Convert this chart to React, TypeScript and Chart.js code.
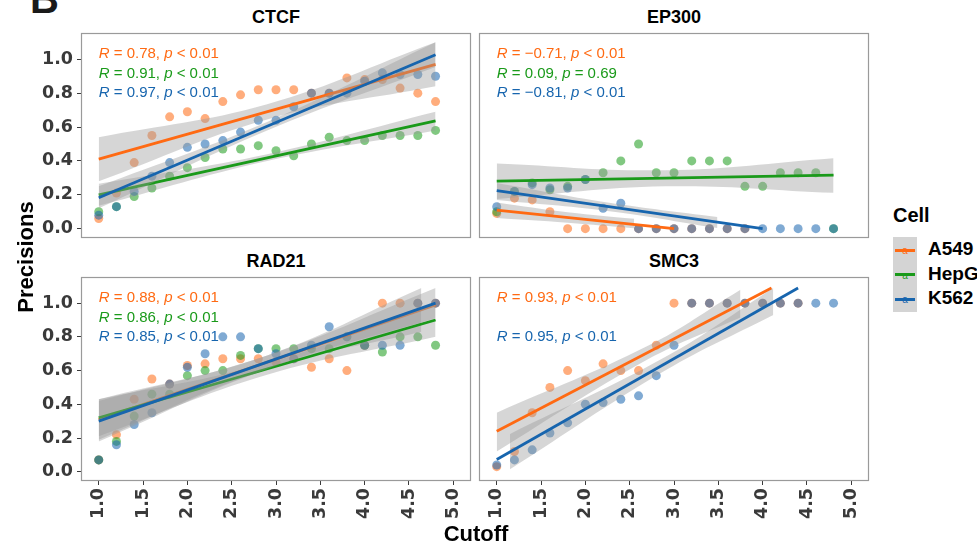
import React, { useEffect, useRef } from 'react';
import { Chart, registerables } from 'chart.js';

Chart.register(...registerables);

// ---------- data ----------
const cutoffs = [1.0, 1.2, 1.4, 1.6, 1.8, 2.0, 2.2, 2.4, 2.6, 2.8, 3.0, 3.2, 3.4, 3.6, 3.8, 4.0, 4.2, 4.4, 4.6, 4.8];
const cells = ['A549', 'HepG2', 'K562'];
const cellColors = ['#FF6A13', '#1A9A1A', '#1765AE'];
const xTicks = [1.0, 1.5, 2.0, 2.5, 3.0, 3.5, 4.0, 4.5, 5.0];
const yTicks = [0.0, 0.2, 0.4, 0.6, 0.8, 1.0];
const corLabelY = [1.03, 0.915, 0.8];

// CTCF
const ctcfA549 = [0.06, 0.21, 0.39, 0.55, 0.66, 0.69, 0.65, 0.75, 0.79, 0.82, 0.82, 0.82, 0.8, 0.8, 0.89, 0.88, 0.88, 0.83, 0.8, 0.75];
const ctcfHepG2 = [0.1, 0.13, 0.19, 0.24, 0.31, 0.36, 0.42, 0.47, 0.47, 0.49, 0.46, 0.43, 0.5, 0.54, 0.52, 0.52, 0.55, 0.55, 0.55, 0.58];
const ctcfK562 = [0.08, 0.13, 0.22, 0.31, 0.39, 0.48, 0.5, 0.52, 0.57, 0.64, 0.64, 0.72, 0.8, 0.8, 0.8, 0.87, 0.92, 0.91, 0.91, 0.9];
const ctcfR = ['0.78', '0.91', '0.97'];
const ctcfP = ['< 0.01', '< 0.01', '< 0.01'];
const ctcfFitA549 = [[1.0, 0.41], [4.8, 0.97]];
const ctcfFitHepG2 = [[1.0, 0.2], [4.8, 0.636]];
const ctcfFitK562 = [[1.0, 0.183], [4.8, 1.027]];
const ctcfBandA549 = [[1.0, 0.28, 0.54], [2.9, 0.645, 0.735], [4.8, 0.84, 1.1]];
const ctcfBandHepG2 = [[1.0, 0.135, 0.265], [2.9, 0.4, 0.44], [4.8, 0.58, 0.69]];
const ctcfBandK562 = [[1.0, 0.12, 0.25], [2.9, 0.58, 0.63], [4.8, 0.955, 1.1]];

// EP300
const ep300A549 = [0.09, 0.18, 0.17, 0.1, 0, 0, 0, 0, 0, 0, 0, 0, 0, 0, 0, null, null, null, null, null];
const ep300HepG2 = [0.1, 0.22, 0.27, 0.23, 0.25, 0.29, 0.33, 0.4, 0.5, 0.33, 0.33, 0.4, 0.4, 0.4, 0.25, 0.25, 0.33, 0.33, 0.33, 0];
const ep300K562 = [0.13, 0.22, 0.26, 0.24, 0.24, 0.29, 0.12, 0.15, 0, 0, 0, 0, 0, 0, 0, 0, 0, 0, 0, 0];
const ep300R = ['\u22120.71', '0.09', '\u22120.81'];
const ep300P = ['< 0.01', '= 0.69', '< 0.01'];
const ep300FitA549 = [[1.0, 0.11], [3.0, 0.0]];
const ep300FitHepG2 = [[1.0, 0.281], [4.8, 0.316]];
const ep300FitK562 = [[1.0, 0.224], [4.0, 0.0]];
const ep300BandA549 = [[1.0, 0.063, 0.155], [1.8, 0.035, 0.097], [2.55, 0.002, 0.058]];
const ep300BandHepG2 = [[1.0, 0.175, 0.385], [2.9, 0.25, 0.345], [4.8, 0.212, 0.416]];
const ep300BandK562 = [[1.0, 0.17, 0.27], [2.25, 0.105, 0.155], [3.49, 0.004, 0.069]];

// RAD21
const rad21A549 = [0.07, 0.22, 0.43, 0.55, 0.52, 0.63, 0.64, 0.67, 0.67, 0.67, 0.65, 0.67, 0.62, 0.67, 0.6, 0.75, 1.0, 1.0, 1.0, 1.0];
const rad21HepG2 = [0.07, 0.18, 0.33, 0.46, 0.46, 0.57, 0.6, 0.6, 0.69, 0.73, 0.73, 0.73, 0.73, 0.73, 0.8, 0.75, 0.71, 0.8, 0.8, 0.75];
const rad21K562 = [0.07, 0.16, 0.28, 0.35, 0.52, 0.62, 0.7, 0.8, 0.8, 0.73, 0.7, 0.67, 0.75, 0.86, 0.8, 0.75, 0.75, 0.75, 1.0, 1.0];
const rad21R = ['0.88', '0.86', '0.85'];
const rad21P = ['< 0.01', '< 0.01', '< 0.01'];
const rad21FitA549 = [[1.0, 0.31], [4.8, 0.99]];
const rad21FitHepG2 = [[1.0, 0.32], [4.8, 0.9]];
const rad21FitK562 = [[1.0, 0.3], [4.8, 1.0]];
const rad21BandA549 = [[1.0, 0.19, 0.43], [2.9, 0.61, 0.69], [4.64, 0.83, 1.09]];
const rad21BandHepG2 = [[1.0, 0.21, 0.43], [2.9, 0.575, 0.645], [4.8, 0.8, 1.0]];
const rad21BandK562 = [[1.0, 0.18, 0.42], [2.9, 0.61, 0.69], [4.8, 0.91, 1.09]];

// SMC3
const smc3A549 = [0.03, 0.12, 0.35, 0.5, 0.6, 0.54, 0.64, 0.6, 0.6, 0.75, 1.0, 1.0, 1.0, 1.0, 1.0, 1.0, 1.0, 1.0, null, null];
const smc3HepG2 = [null, null, null, null, null, null, null, null, null, null, null, null, null, null, null, null, null, null, null, null];
const smc3K562 = [0.04, 0.07, 0.13, 0.23, 0.29, 0.4, 0.41, 0.43, 0.45, 0.57, 0.75, 1.0, 1.0, 1.0, 1.0, 1.0, 1.0, 1.0, 1.0, 1.0];
const smc3R = ['0.93', null, '0.95'];
const smc3P = ['< 0.01', null, '< 0.01'];
const smc3FitA549 = [[1.0, 0.24], [4.1, 1.09]];
const smc3FitK562 = [[1.0, 0.073], [4.4, 1.09]];
const smc3BandA549 = [[1.0, 0.12, 0.35], [2.7, 0.665, 0.745], [3.75, 0.915, 1.08]];
const smc3BandK562 = [[1.15, 0.014, 0.224], [2.9, 0.6, 0.68], [4.12, 0.93, 1.09]];

// ---------- layout / style ----------
const TICK_FONT = '"DejaVu Sans", Arial, sans-serif';
const TEXT_FONT = '"Liberation Sans", Arial, Helvetica, sans-serif';
const BAND_FILL = 'rgba(153,153,153,0.4)';
const TICK_COLOR = '#3a3a3a';

const panels = [
  { title: 'CTCF', values: [ctcfA549, ctcfHepG2, ctcfK562], fits: [ctcfFitA549, ctcfFitHepG2, ctcfFitK562], bands: [ctcfBandA549, ctcfBandHepG2, ctcfBandK562], r: ctcfR, p: ctcfP, left: 81, top: 33, w: 390, h: 205, showX: false, showY: true, titleY: 19 },
  { title: 'EP300', values: [ep300A549, ep300HepG2, ep300K562], fits: [ep300FitA549, ep300FitHepG2, ep300FitK562], bands: [ep300BandA549, ep300BandHepG2, ep300BandK562], r: ep300R, p: ep300P, left: 479, top: 33, w: 390, h: 205, showX: false, showY: false, titleY: 19 },
  { title: 'RAD21', values: [rad21A549, rad21HepG2, rad21K562], fits: [rad21FitA549, rad21FitHepG2, rad21FitK562], bands: [rad21BandA549, rad21BandHepG2, rad21BandK562], r: rad21R, p: rad21P, left: 81, top: 277, w: 390, h: 204, showX: true, showY: true, titleY: 262.5 },
  { title: 'SMC3', values: [smc3A549, smc3HepG2, smc3K562], fits: [smc3FitA549, null, smc3FitK562], bands: [smc3BandA549, null, smc3BandK562], r: smc3R, p: smc3P, left: 479, top: 277, w: 390, h: 204, showX: true, showY: false, titleY: 262.5 },
];

const PAD = 3;
const Y_AXIS_W = 50;
const X_AXIS_H = 62;

function rgba(hex: string, a: number) {
  const n = parseInt(hex.slice(1), 16);
  return `rgba(${(n >> 16) & 255},${(n >> 8) & 255},${n & 255},${a})`;
}

function buildDatasets(p: any) {
  const ds: any[] = [];
  p.values.forEach((vals: (number | null)[], i: number) => {
    ds.push({
      type: 'scatter',
      data: cutoffs.map((x, j) => ({ x, y: vals[j] })).filter((d) => d.y != null),
      backgroundColor: rgba(cellColors[i], 0.55),
      borderWidth: 0,
      pointRadius: 4.5,
      pointHoverRadius: 4.5,
    });
  });
  p.bands.forEach((band: number[][] | null, i: number) => {
    if (band) {
      ds.push({
        type: 'line',
        data: band.map((b) => ({ x: b[0], y: b[1] })),
        borderColor: 'rgba(0,0,0,0)',
        borderWidth: 0,
        pointRadius: 0,
        tension: 0.4,
        fill: false,
      });
      ds.push({
        type: 'line',
        data: band.map((b) => ({ x: b[0], y: b[2] })),
        borderColor: 'rgba(0,0,0,0)',
        borderWidth: 0,
        pointRadius: 0,
        tension: 0.4,
        fill: '-1',
        backgroundColor: BAND_FILL,
      });
    }
    const fit = p.fits[i];
    if (fit) {
      ds.push({
        type: 'line',
        data: fit.map((f: number[]) => ({ x: f[0], y: f[1] })),
        borderColor: cellColors[i],
        borderWidth: 2.8,
        pointRadius: 0,
        tension: 0,
        fill: false,
        borderCapStyle: 'butt',
      });
    }
  });
  const n = ds.length;
  ds.forEach((d, i) => (d.order = n - i));
  return ds;
}

function decoPlugin(p: any) {
  return {
    id: 'deco',
    afterDatasetsDraw(chart: any) {
      const { ctx, chartArea: a, scales } = chart;
      ctx.save();
      const x0 = scales.x.getPixelForValue(1.0);
      p.r.forEach((rv: string | null, i: number) => {
        if (rv == null) return;
        const y = scales.y.getPixelForValue(corLabelY[i]);
        const parts: [string, boolean][] = [['R', true], [` = ${rv}, `, false], ['p', true], [` ${p.p[i]}`, false]];
        let x = x0;
        ctx.fillStyle = cellColors[i];
        ctx.textBaseline = 'middle';
        ctx.textAlign = 'left';
        for (const [t, it] of parts) {
          ctx.font = `${it ? 'italic ' : ''}15px ${TEXT_FONT}`;
          ctx.fillText(t, x, y);
          x += ctx.measureText(t).width;
        }
      });
      ctx.strokeStyle = '#9a9a9a';
      ctx.lineWidth = 1.2;
      ctx.strokeRect(a.left + 0.5, a.top + 0.5, a.right - a.left - 1, a.bottom - a.top - 1);
      ctx.restore();
    },
  };
}

function Panel({ p }: { p: any }) {
  const ref = useRef<HTMLCanvasElement>(null);
  const yW = p.showY ? Y_AXIS_W : 0;
  const xH = p.showX ? X_AXIS_H : 0;
  const w = PAD + yW + p.w + PAD;
  const h = PAD + p.h + xH + PAD;

  useEffect(() => {
    const tickFont = { family: TICK_FONT, size: 17.5, weight: 'bold' as const };
    const chart = new Chart(ref.current as HTMLCanvasElement, {
      type: 'scatter',
      data: { datasets: buildDatasets(p) },
      options: {
        animation: false,
        responsive: false,
        events: [],
        layout: { padding: PAD, autoPadding: false },
        plugins: { legend: { display: false }, tooltip: { enabled: false }, title: { display: false } },
        scales: {
          x: {
            type: 'linear',
            display: p.showX,
            min: 0.8,
            max: 5.2,
            afterBuildTicks: (s: any) => {
              s.ticks = xTicks.map((v) => ({ value: v }));
            },
            afterFit: (s: any) => {
              s.height = xH;
              s.paddingLeft = 0;
              s.paddingRight = 0;
              s.paddingTop = 0;
              s.paddingBottom = 0;
            },
            ticks: {
              autoSkip: false,
              maxRotation: 90,
              minRotation: 90,
              padding: 3,
              color: TICK_COLOR,
              font: tickFont,
              callback: (v: any) => Number(v).toFixed(1),
            },
            grid: { drawOnChartArea: false, drawTicks: true, tickLength: 4, color: TICK_COLOR },
            border: { display: false },
          },
          y: {
            type: 'linear',
            display: p.showY,
            min: -0.055,
            max: 1.155,
            afterBuildTicks: (s: any) => {
              s.ticks = yTicks.map((v) => ({ value: v }));
            },
            afterFit: (s: any) => {
              s.width = yW;
              s.paddingLeft = 0;
              s.paddingRight = 0;
              s.paddingTop = 0;
              s.paddingBottom = 0;
            },
            ticks: {
              autoSkip: false,
              padding: 4,
              color: TICK_COLOR,
              font: tickFont,
              callback: (v: any) => Number(v).toFixed(1),
            },
            grid: { drawOnChartArea: false, drawTicks: true, tickLength: 4, color: TICK_COLOR },
            border: { display: false },
          },
        },
      } as any,
      plugins: [decoPlugin(p)],
    });
    return () => chart.destroy();
  }, []);

  return (
    <>
      <div
        style={{
          position: 'absolute',
          left: p.left,
          width: p.w,
          top: p.titleY - 12,
          height: 24,
          lineHeight: '24px',
          textAlign: 'center',
          font: `bold 18px ${TEXT_FONT}`,
          color: '#000',
        }}
      >
        {p.title}
      </div>
      <canvas
        ref={ref}
        width={w}
        height={h}
        style={{ position: 'absolute', left: p.left - PAD - yW, top: p.top - PAD, width: w, height: h }}
      />
    </>
  );
}

const legendRowY = [250, 274.5, 299];

export default function App() {
  return (
    <div
      style={{
        position: 'fixed',
        left: 0,
        top: 0,
        width: 977,
        height: 546,
        overflow: 'hidden',
        background: '#fff',
      }}
    >
      <div
        style={{
          position: 'absolute',
          left: 30,
          top: -21,
          font: `bold 40px ${TEXT_FONT}`,
          lineHeight: '40px',
          color: '#1a1a1a',
        }}
      >
        B
      </div>
      {panels.map((p) => (
        <Panel key={p.title} p={p} />
      ))}
      <div
        style={{
          position: 'absolute',
          left: 376,
          width: 200,
          top: 521,
          height: 24,
          lineHeight: '24px',
          textAlign: 'center',
          font: `bold 22px ${TEXT_FONT}`,
          color: '#000',
        }}
      >
        Cutoff
      </div>
      <div
        style={{
          position: 'absolute',
          left: 25 - 100,
          top: 256.5 - 12,
          width: 200,
          height: 24,
          lineHeight: '24px',
          textAlign: 'center',
          font: `bold 22px ${TEXT_FONT}`,
          color: '#000',
          transform: 'rotate(-90deg)',
        }}
      >
        Precisions
      </div>
      <div
        style={{
          position: 'absolute',
          left: 893,
          top: 204,
          height: 24,
          lineHeight: '24px',
          font: `bold 20px ${TEXT_FONT}`,
          color: '#000',
        }}
      >
        Cell
      </div>
      <div style={{ position: 'absolute', left: 893, top: 237, width: 24, height: 75, background: '#d4d4d4' }} />
      {cells.map((c, i) => (
        <React.Fragment key={c}>
          <div
            style={{
              position: 'absolute',
              left: 900,
              width: 10,
              top: legendRowY[i] - 5,
              height: 14,
              lineHeight: '14px',
              textAlign: 'center',
              font: `10px ${TEXT_FONT}`,
              color: cellColors[i],
            }}
          >
            a
          </div>
          <div
            style={{
              position: 'absolute',
              left: 895,
              width: 20,
              top: legendRowY[i] - 1.5,
              height: 3,
              background: cellColors[i],
            }}
          />
          <div
            style={{
              position: 'absolute',
              left: 928,
              top: legendRowY[i] - 12,
              height: 24,
              lineHeight: '24px',
              whiteSpace: 'nowrap',
              font: `bold 19px ${TEXT_FONT}`,
              color: '#000',
            }}
          >
            {c}
          </div>
        </React.Fragment>
      ))}
    </div>
  );
}
